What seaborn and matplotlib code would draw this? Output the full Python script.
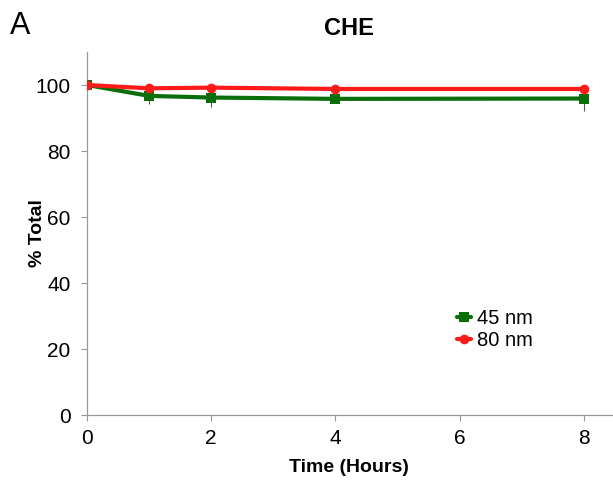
import numpy as np
import pandas as pd
import seaborn as sns
import matplotlib.pyplot as plt

# values
hours = [0, 1, 2, 4, 8]
total_45 = [100, 96.7, 96.2, 95.8, 95.9]
err_45 = [0.3, 2.5, 2.8, 0.8, 3.8]
total_80 = [100, 99.0, 99.2, 98.8, 98.8]

df = pd.DataFrame({
    'Time': hours * 2,
    'Total': total_45 + total_80,
    'Size': ['45 nm'] * 5 + ['80 nm'] * 5,
})

sns.set_style("white")
plt.rcParams['font.family'] = ['Liberation Sans', 'DejaVu Sans']
plt.rcParams['text.color'] = 'black'
plt.rcParams['axes.labelcolor'] = 'black'
plt.rcParams['xtick.color'] = 'black'
plt.rcParams['ytick.color'] = 'black'

fig = plt.figure(figsize=(6.13, 4.86), dpi=100)
ax = fig.add_axes([0.142, 0.146, 0.856, 0.747])

palette = {'45 nm': '#0a6e0a', '80 nm': '#ff1a1a'}
ax.errorbar(hours, total_45, yerr=err_45, fmt='none', ecolor='#555555', elinewidth=0.8, zorder=1)
sns.lineplot(data=df, x='Time', y='Total', hue='Size', style='Size', palette=palette,
             markers={'45 nm': 's', '80 nm': 'o'}, dashes=False, linewidth=3,
             markersize=7, markeredgewidth=0, ax=ax, zorder=3)

ax.set_xlim(0, 8.45)
ax.set_ylim(0, 110)
ax.set_xticks([0, 2, 4, 6, 8])
ax.set_yticks([0, 20, 40, 60, 80, 100])
ax.tick_params(axis='both', labelsize=15, length=4, direction='out', bottom=True, left=True)
ax.tick_params(axis='both', which='major', color='#999999')
ax.tick_params(axis='x', pad=6)
ax.tick_params(axis='y', pad=8)
for s in ['top', 'right']:
    ax.spines[s].set_visible(False)
for s in ['left', 'bottom']:
    ax.spines[s].set_color('#999999')
    ax.spines[s].set_linewidth(0.9)

ax.set_xlabel('Time (Hours)', fontsize=14, fontweight='bold', labelpad=8)
ax.set_ylabel('% Total', fontsize=14, fontweight='bold', labelpad=-8)
ax.set_title('CHE', fontsize=17, fontweight='bold', pad=12)
fig.text(0.016, 0.93, 'A', fontsize=22)

ax.legend(frameon=False, fontsize=14.5, loc='upper left', bbox_to_anchor=(0.69, 0.315),
          handlelength=0.7, handletextpad=0.3, labelspacing=0.15, borderaxespad=0)

fig.savefig('out.png', dpi=100)
